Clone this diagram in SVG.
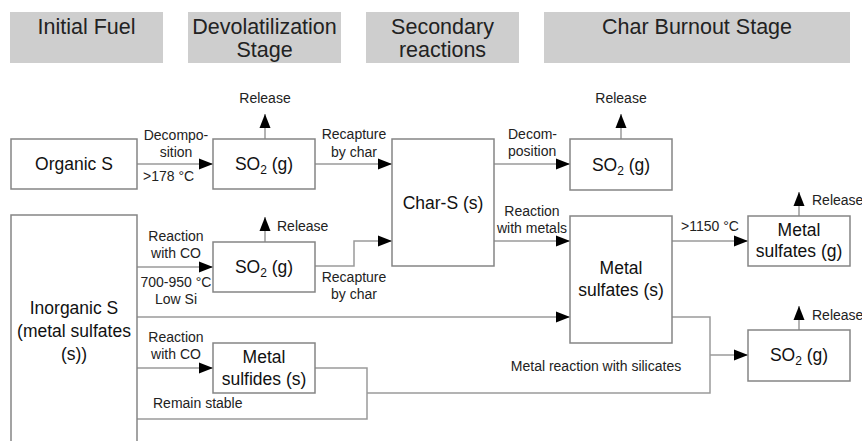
<svg xmlns="http://www.w3.org/2000/svg" width="862" height="441" viewBox="0 0 862 441">
<style>
.hdr{fill:#cecece;stroke:none}
.ht{font-family:"Liberation Sans",Arial,sans-serif;font-size:21.5px;fill:#222;text-anchor:middle}
.box{fill:#fff;stroke:#858585;stroke-width:1.5}
.bt{font-family:"Liberation Sans",Arial,sans-serif;font-size:17.5px;fill:#111;text-anchor:middle}
.lt{font-family:"Liberation Sans",Arial,sans-serif;font-size:14px;fill:#222;text-anchor:middle}
.ll{font-family:"Liberation Sans",Arial,sans-serif;font-size:14px;fill:#222}
.c{fill:none;stroke:#9a9a9a;stroke-width:1.5}
.a{marker-end:url(#arr)}
</style>
<defs>
<marker id="arr" markerUnits="userSpaceOnUse" markerWidth="15" markerHeight="12" refX="14" refY="6" orient="auto">
<path d="M0,0.5 L14,6 L0,11.5 z" fill="#000"/>
</marker>
</defs>
<g id="headers">
<rect class="hdr" x="10" y="12" width="153" height="51"/>
<text class="ht" x="86.5" y="34">Initial Fuel</text>
<rect class="hdr" x="188" y="12" width="153" height="51"/>
<text class="ht" x="264.5" y="34">Devolatilization</text>
<text class="ht" x="264.5" y="57">Stage</text>
<rect class="hdr" x="366" y="12" width="153" height="51"/>
<text class="ht" x="442.5" y="34">Secondary</text>
<text class="ht" x="442.5" y="57">reactions</text>
<rect class="hdr" x="544" y="12" width="306" height="51"/>
<text class="ht" x="697" y="34">Char Burnout Stage</text>
</g>
<g id="connectors">
<path class="c a" d="M137,164 H213"/>
<path class="c a" d="M265,139 V114"/>
<path class="c a" d="M315,164 H392"/>
<path class="c a" d="M494,164 H570"/>
<path class="c a" d="M621,139 V114"/>
<path class="c a" d="M137,267 H213"/>
<path class="c a" d="M265,242 V217"/>
<path class="c a" d="M315,266 H354 V241 H392"/>
<path class="c a" d="M494,241 H570"/>
<path class="c a" d="M137,317 H570"/>
<path class="c a" d="M137,368 H213"/>
<path class="c" d="M315,368 H367 V419 H137"/>
<path class="c" d="M367,393 H710 V317 H672"/>
<path class="c a" d="M710,355 H748"/>
<path class="c a" d="M672,241 H748"/>
<path class="c a" d="M799,216 V192"/>
<path class="c a" d="M799,330 V306"/>
<text class="lt" x="176" y="140">Decompo-</text>
<text class="lt" x="176" y="157">sition</text>
<text class="ll" x="143" y="181">&gt;178 °C</text>
<text class="lt" x="265" y="103">Release</text>
<text class="lt" x="354" y="139">Recapture</text>
<text class="lt" x="354" y="157">by char</text>
<text class="ll" x="508" y="139">Decom-</text>
<text class="ll" x="508" y="156">position</text>
<text class="lt" x="621" y="103">Release</text>
<text class="lt" x="176" y="241">Reaction</text>
<text class="lt" x="176" y="258">with CO</text>
<text class="lt" x="176" y="287">700-950 °C</text>
<text class="lt" x="176" y="304">Low Si</text>
<text class="ll" x="277" y="231">Release</text>
<text class="lt" x="354" y="282">Recapture</text>
<text class="lt" x="354" y="299">by char</text>
<text class="lt" x="532" y="216">Reaction</text>
<text class="lt" x="532" y="233">with metals</text>
<text class="lt" x="710" y="231">&gt;1150 °C</text>
<text class="ll" x="812" y="205">Release</text>
<text class="ll" x="812" y="320">Release</text>
<text class="lt" x="176" y="342">Reaction</text>
<text class="lt" x="176" y="359">with CO</text>
<text class="ll" x="153" y="408">Remain stable</text>
<text class="lt" x="596" y="371">Metal reaction with silicates</text>
</g>
<g id="organic-s">
<rect class="box" x="11" y="139" width="126" height="50"/>
<text class="bt" x="74" y="170">Organic S</text>
</g>
<g id="so2-devol">
<rect class="box" x="213" y="139" width="102" height="50"/>
<text class="bt" x="264" y="170">SO<tspan font-size="12" dy="4">2</tspan><tspan dy="-4"> (g)</tspan></text>
</g>
<g id="char-s">
<rect class="box" x="392" y="139" width="102" height="127"/>
<text class="bt" x="443" y="209">Char-S (s)</text>
</g>
<g id="so2-burnout">
<rect class="box" x="570" y="139" width="102" height="51"/>
<text class="bt" x="621" y="171">SO<tspan font-size="12" dy="4">2</tspan><tspan dy="-4"> (g)</tspan></text>
</g>
<g id="inorganic-s">
<rect class="box" x="11" y="215" width="126" height="240"/>
<text class="bt" x="74" y="314">Inorganic S</text>
<text class="bt" x="74" y="337">(metal sulfates</text>
<text class="bt" x="74" y="360">(s))</text>
</g>
<g id="so2-co">
<rect class="box" x="213" y="242" width="102" height="50"/>
<text class="bt" x="264" y="273">SO<tspan font-size="12" dy="4">2</tspan><tspan dy="-4"> (g)</tspan></text>
</g>
<g id="metal-sulfides">
<rect class="box" x="213" y="343" width="102" height="50"/>
<text class="bt" x="264" y="363">Metal</text>
<text class="bt" x="264" y="385">sulfides (s)</text>
</g>
<g id="metal-sulfates-s">
<rect class="box" x="570" y="216" width="102" height="127"/>
<text class="bt" x="621" y="274">Metal</text>
<text class="bt" x="621" y="296">sulfates (s)</text>
</g>
<g id="metal-sulfates-g">
<rect class="box" x="748" y="216" width="102" height="50"/>
<text class="bt" x="799" y="236">Metal</text>
<text class="bt" x="799" y="257">sulfates (g)</text>
</g>
<g id="so2-silicates">
<rect class="box" x="748" y="330" width="102" height="51"/>
<text class="bt" x="799" y="361">SO<tspan font-size="12" dy="4">2</tspan><tspan dy="-4"> (g)</tspan></text>
</g>
</svg>
